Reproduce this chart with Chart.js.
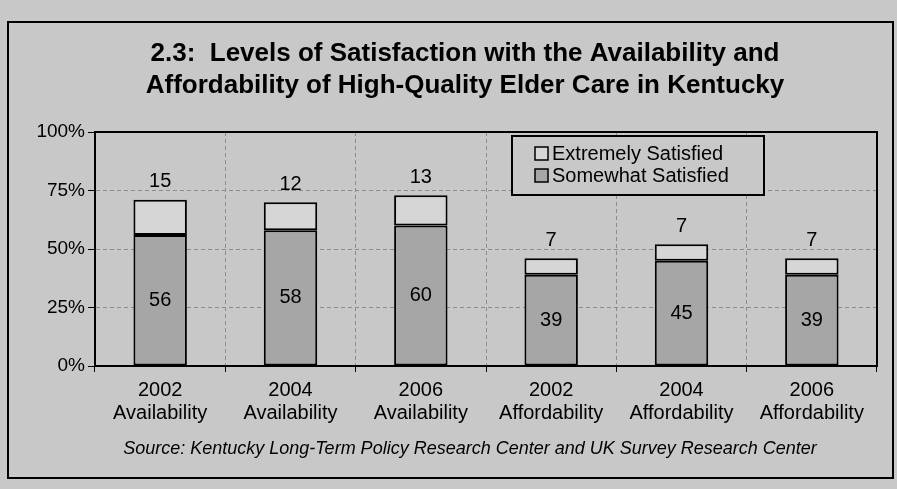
<!DOCTYPE html>
<html>
<head>
<meta charset="utf-8">
<script src="https://cdn.jsdelivr.net/npm/chart.js@4"></script>
<style>
  html, body { margin: 0; padding: 0; background: #c8c8c8; }
  #wrap { width: 897px; height: 489px; position: relative; }
</style>
</head>
<body>
<div id="wrap"><canvas id="grafico" width="897" height="489"></canvas></div>
<script>
// Dados
const categorias = [
    ['2002', 'Availability'], ['2004', 'Availability'], ['2006', 'Availability'],
    ['2002', 'Affordability'], ['2004', 'Affordability'], ['2006', 'Affordability']
];
const somewhatSatisfied = [56, 58, 60, 39, 45, 39];
const extremelySatisfied = [15, 12, 13, 7, 7, 7];
const ticksY = [0, 25, 50, 75, 100];

const titulo = [
    '2.3:  Levels of Satisfaction with the Availability and',
    'Affordability of High-Quality Elder Care in Kentucky'
];
const fonte = 'Source: Kentucky Long-Term Policy Research Center and UK Survey Research Center';

const corSomewhat = '#a6a6a6';
const corExtremely = '#d6d6d6';
const familia = '"Liberation Sans", Arial, sans-serif';

// Plugin para desenhar moldura, título, legenda e rótulos
const extras = {
    id: 'extras',
    beforeDraw(chart) {
        const ctx = chart.ctx;
        ctx.save();
        ctx.strokeStyle = '#000';
        ctx.lineWidth = 2;
        ctx.strokeRect(8, 22, 885, 456);

        ctx.fillStyle = '#000';
        ctx.font = 'bold 26px ' + familia;
        ctx.textAlign = 'center';
        ctx.textBaseline = 'middle';
        ctx.fillText(titulo[0], 465, 54);
        ctx.fillText(titulo[1], 465, 86);

        ctx.font = 'italic 18px ' + familia;
        ctx.fillText(fonte, 470, 449);
        ctx.restore();
    },
    afterDraw(chart) {
        const ctx = chart.ctx;
        const a = chart.chartArea;
        ctx.save();
        ctx.strokeStyle = '#000';
        ctx.lineWidth = 2;
        ctx.strokeRect(a.left, a.top, a.right - a.left, a.bottom - a.top);

        // rótulos de valores
        ctx.fillStyle = '#000';
        ctx.font = '20px ' + familia;
        ctx.textAlign = 'center';
        ctx.textBaseline = 'middle';
        const m0 = chart.getDatasetMeta(0);
        const m1 = chart.getDatasetMeta(1);
        m0.data.forEach((bar, i) => {
            ctx.fillText(somewhatSatisfied[i], bar.x, (bar.y + bar.base) / 2);
        });
        m1.data.forEach((bar, i) => {
            ctx.fillText(extremelySatisfied[i], bar.x, bar.y - 18);
        });

        // legenda
        const lx = 512, ly = 136, lw = 252, lh = 59;
        ctx.fillStyle = '#c8c8c8';
        ctx.fillRect(lx, ly, lw, lh);
        ctx.lineWidth = 2;
        ctx.strokeRect(lx, ly, lw, lh);
        const itens = [
            { texto: 'Extremely Satisfied', cor: corExtremely },
            { texto: 'Somewhat Satisfied', cor: corSomewhat }
        ];
        ctx.textAlign = 'left';
        ctx.font = '20px ' + familia;
        itens.forEach((it, k) => {
            const y = ly + 18 + k * 22;
            ctx.fillStyle = it.cor;
            ctx.fillRect(lx + 23, y - 7, 13, 13);
            ctx.lineWidth = 1.5;
            ctx.strokeRect(lx + 23, y - 7, 13, 13);
            ctx.fillStyle = '#000';
            ctx.fillText(it.texto, lx + 40, y);
        });
        ctx.restore();
    }
};

function criarGrafico() {
    const ctx = document.getElementById('grafico').getContext('2d');
    new Chart(ctx, {
        type: 'bar',
        data: {
            labels: categorias,
            datasets: [{
                label: 'Somewhat Satisfied',
                data: somewhatSatisfied,
                backgroundColor: corSomewhat,
                borderColor: '#000',
                borderWidth: 2,
                borderSkipped: false,
                barPercentage: 0.41,
                categoryPercentage: 1
            }, {
                label: 'Extremely Satisfied',
                data: extremelySatisfied,
                backgroundColor: corExtremely,
                borderColor: '#000',
                borderWidth: 2,
                borderSkipped: false,
                barPercentage: 0.41,
                categoryPercentage: 1
            }]
        },
        options: {
            responsive: false,
            animation: false,
            layout: { padding: { left: 10, top: 132, right: 20, bottom: 53 } },
            scales: {
                x: {
                    stacked: true,
                    afterFit: s => { s.height = 70; },
                    grid: { color: '#8c8c8c', tickColor: '#000', tickLength: 6, offset: true },
                    border: { dash: [4, 3], color: '#000', width: 2 },
                    ticks: {
                        color: '#000',
                        padding: 7,
                        font: { family: familia, size: 20, lineHeight: 1.15 }
                    }
                },
                y: {
                    stacked: true,
                    min: 0,
                    max: 100,
                    afterFit: s => { s.width = 85; },
                    afterBuildTicks: s => { s.ticks = ticksY.map(v => ({ value: v })); },
                    grid: { color: '#8c8c8c', tickColor: '#000', tickLength: 7 },
                    border: { dash: [4, 3], color: '#000', width: 2 },
                    ticks: {
                        color: '#000',
                        padding: 3,
                        font: { family: familia, size: 19 },
                        callback: v => v + '%'
                    }
                }
            },
            plugins: {
                legend: { display: false },
                title: { display: false },
                tooltip: { enabled: false }
            }
        },
        plugins: [extras]
    });
}

document.addEventListener('DOMContentLoaded', () => {
    criarGrafico();
});
</script>
</body>
</html>
